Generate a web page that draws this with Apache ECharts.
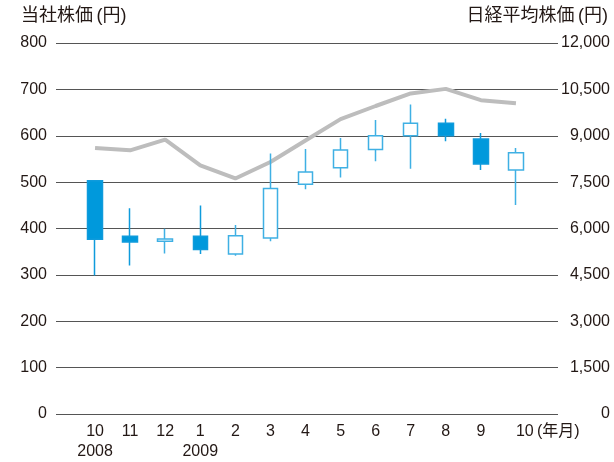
<!DOCTYPE html>
<html><head><meta charset="utf-8">
<script src="https://cdn.jsdelivr.net/npm/echarts@6/dist/echarts.min.js"></script>
<style>html,body{margin:0;padding:0;background:#fff}#c{width:614px;height:462px}</style>
</head><body><div id="c"></div>
<script>
const months = ['10','11','12','1','2','3','4','5','6','7','8','9','10'];
const years = ['2008','','','2009','','','','','','','','',''];
// [open, close, low, high]
const stockOpen  = [500, 379, 368, 379, 340, 375, 492, 528, 568, 598, 625, 591, 523];
const stockClose = [372, 366, 373, 350, 380, 483, 519, 567, 598, 625, 598, 536, 561];
const stockLow   = [293, 315, 341, 340, 336, 368, 481, 507, 542, 526, 586, 523, 447];
const stockHigh  = [500, 440, 395, 446, 403, 559, 569, 593, 632, 666, 635, 604, 571];
const nikkei = [8570, 8490, 8840, 8000, 7570, 8110, 8810, 9510, 9940, 10350, 10500, 10130, 10030];
const leftTicks = [0, 800, 100];
const rightTicks = [0, 12000, 1500];

const candleData = stockOpen.map((o, i) => [o, stockClose[i], stockLow[i], stockHigh[i]]);
const font = '"Liberation Sans", Arial, sans-serif';
const cjk = '"Liberation Sans", "Noto Sans CJK JP", sans-serif';

const chart = echarts.init(document.getElementById('c'), null, {renderer: 'canvas'});
chart.setOption({
  animation: false,
  backgroundColor: '#fff',
  graphic: [
    {type: 'text', left: 21, top: 7, style: {text: '当社株価\u2009(円)', font: '18px ' + cjk, fill: '#231815'}},
    {type: 'text', right: 6, top: 7, style: {text: '日経平均株価\u2009(円)', font: '18px ' + cjk, fill: '#231815'}}
  ],
  grid: [
    {left: 56, right: 56, top: 43, bottom: 48},
    {left: 77.5, right: 80.5, top: 43, bottom: 48}
  ],
  xAxis: [
    {type: 'category', gridIndex: 0, data: months, show: false},
    {type: 'category', gridIndex: 1, data: months, boundaryGap: true,
      axisLine: {show: false}, axisTick: {show: false},
      axisLabel: {
        interval: 0, margin: 12, color: '#231815', fontFamily: cjk, fontSize: 16, lineHeight: 20,
        formatter: (v, i) => {
          const t = i === months.length - 1 ? v + '\u2009(年月)' : v;
          return years[i] ? t + '\n' + years[i] : t;
        }
      },
      data: months.map((m, i) => i === months.length - 1 ? {value: m, textStyle: {align: 'left'}} : m)
    }
  ],
  yAxis: [
    {type: 'value', gridIndex: 0, min: leftTicks[0], max: leftTicks[1], interval: leftTicks[2], position: 'left',
      axisLine: {show: false}, axisTick: {show: false},
      axisLabel: {color: '#231815', fontFamily: font, fontSize: 16, margin: 9},
      splitLine: {lineStyle: {color: '#555', width: 1}}},
    {type: 'value', gridIndex: 0, min: rightTicks[0], max: rightTicks[1], interval: rightTicks[2], position: 'right',
      axisLine: {show: false}, axisTick: {show: false},
      axisLabel: {color: '#231815', fontFamily: font, fontSize: 16, margin: 52, align: 'right',
        formatter: v => v.toLocaleString('en-US')},
      splitLine: {show: false}},
    {type: 'value', gridIndex: 1, min: leftTicks[0], max: leftTicks[1], show: false},
    {type: 'value', gridIndex: 1, min: rightTicks[0], max: rightTicks[1], show: false}
  ],
  series: [
    {type: 'line', xAxisIndex: 1, yAxisIndex: 3, data: nikkei, symbol: 'none',
      lineStyle: {color: '#bdbdbd', width: 4}, z: 2},
    {type: 'candlestick', xAxisIndex: 1, yAxisIndex: 2, data: candleData, barWidth: 15,
      itemStyle: {color: '#ffffff', color0: '#0099dc', borderColor: '#3fb0e4', borderColor0: '#0f9bdc', borderWidth: 1.5},
      z: 3}
  ]
});
</script></body></html>
